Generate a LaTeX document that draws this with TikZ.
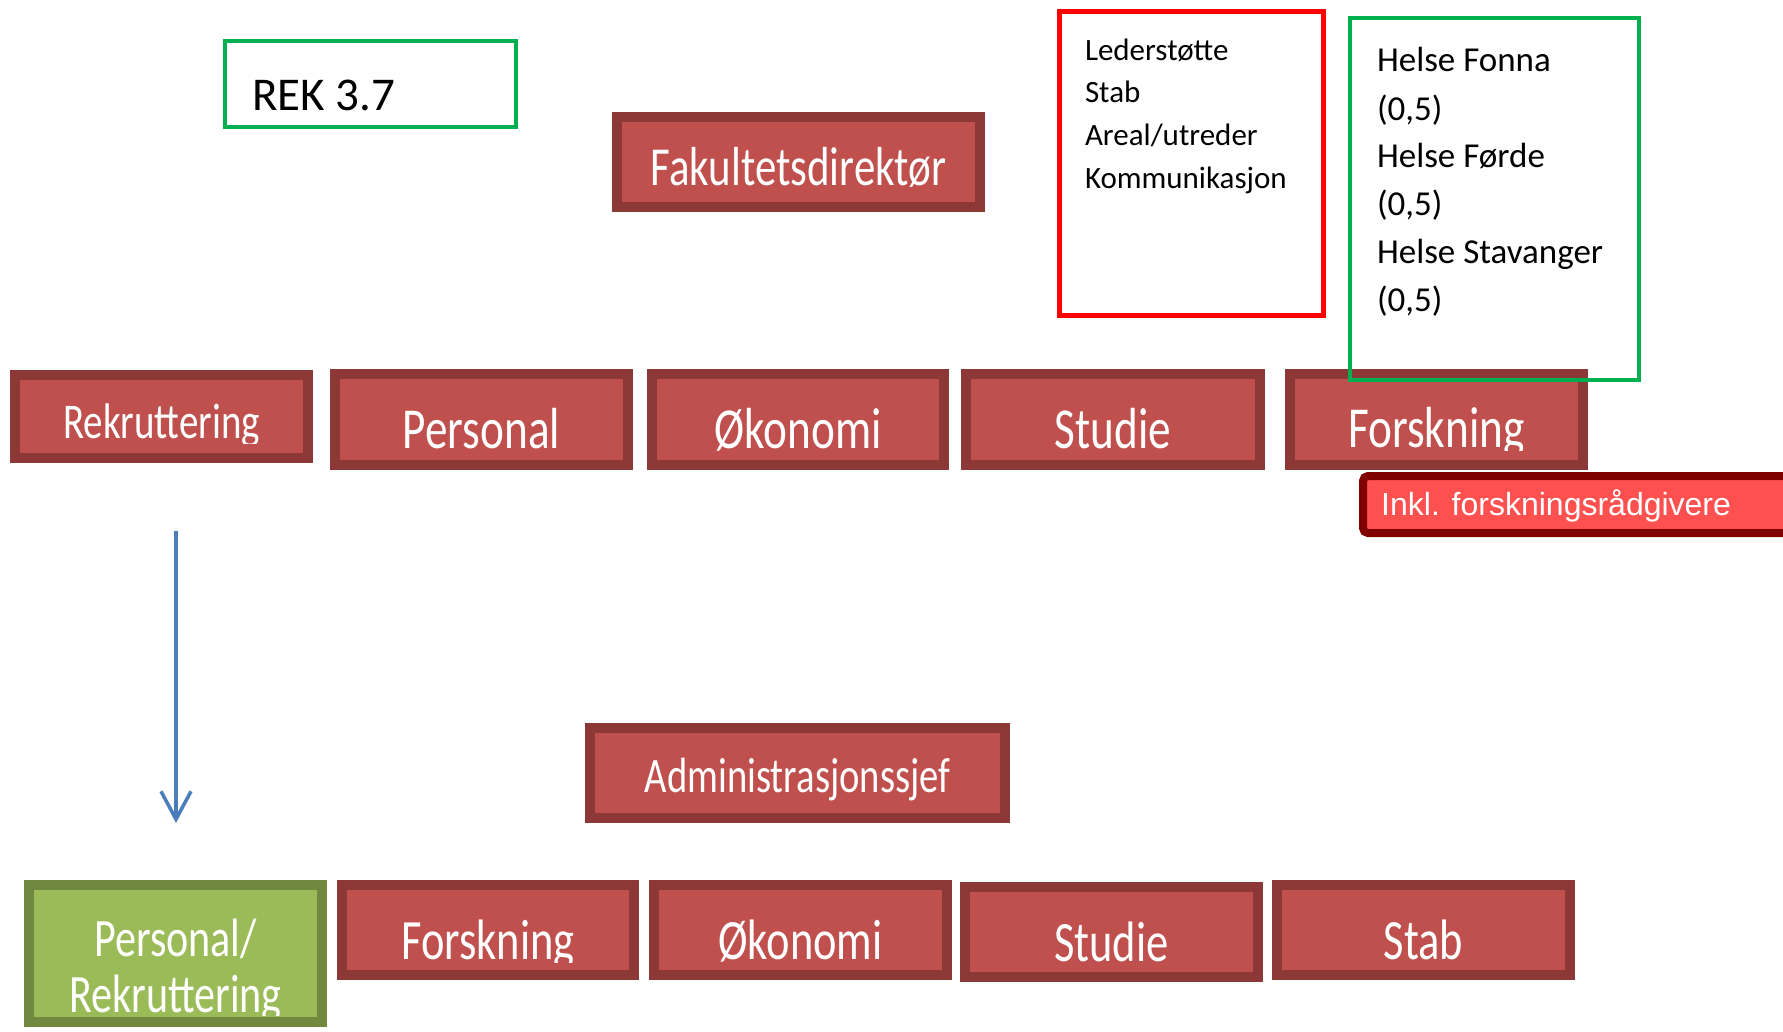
\documentclass[tikz,border=0pt]{standalone}
\usepackage{fontspec}
\setmainfont{Carlito}
\newfontfamily\condfont[FakeStretch=0.78]{Carlito}
\newfontfamily\arialfont{Liberation Sans}
\usetikzlibrary{arrows.meta}
\definecolor{rdark}{RGB}{140,56,54}
\definecolor{rfill}{RGB}{192,80,77}
\definecolor{gdark}{RGB}{113,137,63}
\definecolor{gfill}{RGB}{155,187,89}
\definecolor{lgreen}{RGB}{0,176,80}
\definecolor{lred}{RGB}{255,0,0}
\definecolor{inkborder}{RGB}{128,0,0}
\definecolor{inkfill}{RGB}{255,80,80}
\definecolor{arrblue}{RGB}{74,126,187}
\begin{document}
\begin{tikzpicture}[x=1pt,y=-1pt,
  rbox/.style={draw=rdark, fill=rfill, line width=10pt, inner sep=0pt, outer sep=0pt},
  gbox/.style={draw=gdark, fill=gfill, line width=10pt, inner sep=0pt, outer sep=0pt},
  btext/.style={anchor=base, inner sep=0pt, outer sep=0pt, text=white, font={\condfont\fontsize{#1}{#1}\selectfont}},
  ltext/.style={anchor=base west, inner sep=0pt, outer sep=0pt, text=black, font={\fontsize{#1}{#1}\selectfont}},
  outline/.style={draw=#1, inner sep=0pt, outer sep=0pt},
  inkbox/.style={draw=inkborder, fill=inkfill, line width=8pt, rounded corners=5pt, inner sep=0pt, outer sep=0pt},
  arrowline/.style={draw=arrblue, line width=3.5pt, -{Straight Barb[length=28pt,width=30pt,line width=3.5pt]}}
]
\clip (0,0) rectangle (1783,1031);
\fill[white] (0,0) rectangle (1783,1031);

% REK box
\node[outline=lgreen, line width=4pt, minimum width=291pt, minimum height=86pt] (rek) at (370.5,84) {};
\node[ltext=47] (trek) at (252,110) {REK 3.7};

% Fakultetsdirektor
\node[rbox, minimum width=363pt, minimum height=90pt] (fak) at (798.5,162) {};
\node[btext=55] (tfak) at (798.5,185) {Fakultetsdirektør};

% Red box
\node[outline=lred, line width=5pt, minimum width=264pt, minimum height=304pt] (leder) at (1191.5,163.5) {};
\node[ltext=31] (l1) at (1085,60) {Lederstøtte};
\node[ltext=31] (l2) at (1085,102.7) {Stab};
\node[ltext=31] (l3) at (1085,145.3) {Areal/utreder};
\node[ltext=31] (l4) at (1085,188) {Kommunikasjon};

% Row 1
\node[rbox, minimum width=293pt, minimum height=83pt] (rek1) at (161.5,416.5) {};
\begin{scope}
\clip (15,375) rectangle (308,443);
\node[btext=50] (trek1) at (161.5,438) {Rekruttering};
\end{scope}
\node[rbox, minimum width=293pt, minimum height=91pt] (pers1) at (481.5,419.5) {};
\node[btext=58] (tpers1) at (481.5,448) {Personal};
\node[rbox, minimum width=292pt, minimum height=91pt] (oko1) at (798,419.5) {};
\node[btext=58] (toko1) at (798,448) {Økonomi};
\node[rbox, minimum width=294pt, minimum height=91pt] (stu1) at (1113,419.5) {};
\node[btext=58] (tstu1) at (1113,448) {Studie};
\node[rbox, minimum width=293pt, minimum height=91pt] (for1) at (1436.5,419.5) {};
\begin{scope}
\clip (1290,375) rectangle (1583,450);
\node[btext=58] (tfor1) at (1436.5,447) {Forskning};
\end{scope}

% Helse box (over Forskning)
\node[outline=lgreen, line width=4pt, minimum width=289pt, minimum height=362pt] (helse) at (1494.5,199) {};
\node[ltext=35] (h1) at (1377,71) {Helse Fonna};
\node[ltext=35] (h2) at (1377,120) {(0,5)};
\node[ltext=35] (h3) at (1377,167) {Helse Førde};
\node[ltext=35] (h4) at (1377,215) {(0,5)};
\node[ltext=35] (h5) at (1377,263) {Helse Stavanger};
\node[ltext=35] (h6) at (1377,311) {(0,5)};

% Inkl box
\node[inkbox, minimum width=500pt, minimum height=57pt, anchor=west] (inkl) at (1363,504.5) {};
\node[anchor=base west, inner sep=0pt, text=white, font={\arialfont\fontsize{32}{38}\selectfont}] (tinkl) at (1381,515) {Inkl. forskningsrådgivere};

% Arrow
\coordinate (arrS) at (176,531);
\coordinate (arrE) at (176,823);
\draw[arrowline] (arrS) -- (arrE);

% Administrasjonssjef
\node[rbox, minimum width=415pt, minimum height=90pt] (adm) at (797.5,773) {};
\node[btext=49.5] (tadm) at (797.5,792) {Administrasjonssjef};

% Row 2
\node[gbox, minimum width=293pt, minimum height=137pt] (persrek) at (175.5,953.5) {};
\node[btext=54] (tpr1) at (175.5,956) {Personal/};
\begin{scope}
\clip (29,965) rectangle (322,1015);
\node[btext=54] (tpr2) at (175.5,1012) {Rekruttering};
\end{scope}
\node[rbox, minimum width=292pt, minimum height=90pt] (for2) at (488,930) {};
\begin{scope}
\clip (342,885) rectangle (634,962.5);
\node[btext=57] (tfor2) at (488,959.5) {Forskning};
\end{scope}
\node[rbox, minimum width=293pt, minimum height=90pt] (oko2) at (800.5,930) {};
\node[btext=57] (toko2) at (800.5,959.5) {Økonomi};
\node[rbox, minimum width=293pt, minimum height=90pt] (stu2) at (1111.5,932) {};
\node[btext=57] (tstu2) at (1111.5,961.5) {Studie};
\node[rbox, minimum width=293pt, minimum height=90pt] (stab2) at (1423.5,930) {};
\node[btext=57] (tstab2) at (1423.5,959.5) {Stab};
\end{tikzpicture}
\end{document}
